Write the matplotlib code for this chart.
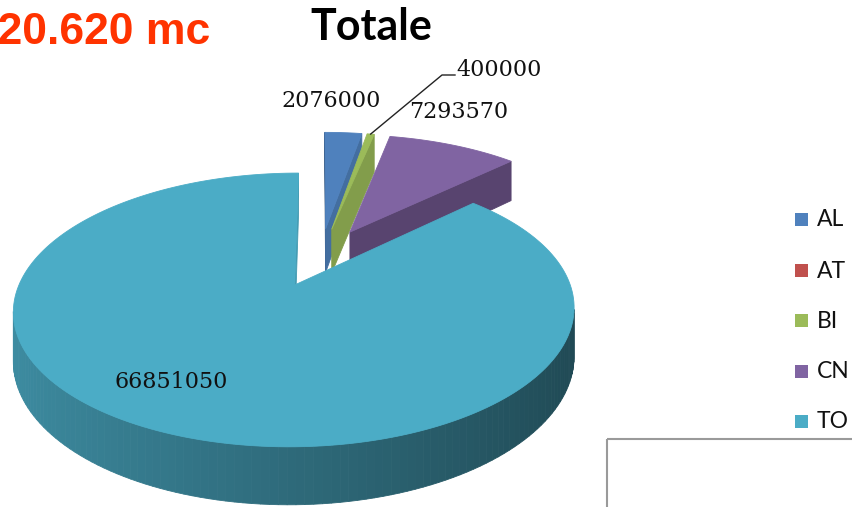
import numpy as np
import matplotlib.pyplot as plt
from matplotlib.patches import Polygon, Rectangle
from matplotlib.colors import to_rgb

# quantities per province (mc)
provinces = ["AL", "AT", "BI", "CN", "TO"]
volumes = [2076000, 0, 400000, 7293570, 66851050]
colors = ["#4F81BD", "#C0504D", "#9BBB59", "#8064A2", "#4BACC6"]

# 3D pie geometry in pixel space (y grows downward)
CX, CY = 320.4, 256.9      # centre of the disc
A, B = 265.0, 122.3        # horizontal / vertical semi axes
P = 0.175                  # perspective strength
H = 45.6                   # thickness of the disc
EXPLODE = 0.24


def proj(u, v, z=0.0):
    """Project disc coordinates (u right, v toward viewer, z down) to pixels."""
    s = 1.0 / (1.0 - P * v)
    return CX + A * u * s, CY + (B * v + H * z) * s


def shade(col, f):
    r, g, b = to_rgb(col)
    return (r * f, g * f, b * f)


def signed_area(pts):
    pts = np.asarray(pts)
    x, y = pts[:, 0], pts[:, 1]
    return 0.5 * np.sum(x * np.roll(y, -1) - np.roll(x, -1) * y)


total = sum(volumes)
angles = np.concatenate([[0], np.cumsum(volumes) / total * 360.0])

fig = plt.figure(figsize=(8.52, 5.07), dpi=100)
ax = fig.add_axes([0, 0, 1, 1])
ax.set_xlim(0, 852)
ax.set_ylim(507, 0)
ax.axis("off")

slices = []
for i, val in enumerate(volumes):
    if val <= 0:
        continue
    t0, t1 = angles[i], angles[i + 1]
    mid = np.radians((t0 + t1) / 2)
    ou, ov = EXPLODE * np.sin(mid), -EXPLODE * np.cos(mid)
    slices.append((ov, i, t0, t1, ou))

# back to front
slices.sort()
arc_mid = {}
for ov, i, t0, t1, ou in slices:
    col = colors[i]
    n = max(int((t1 - t0) / 1.5), 2)
    th = np.radians(np.linspace(t0, t1, n))
    au = ou + np.sin(th)
    av = ov - np.cos(th)
    top = [proj(u, v, 0) for u, v in zip(au, av)]
    bot = [proj(u, v, 1) for u, v in zip(au, av)]
    apex_t = proj(ou, ov, 0)
    apex_b = proj(ou, ov, 1)
    m = np.radians((t0 + t1) / 2)
    arc_mid[i] = proj(ou + np.sin(m), ov - np.cos(m), 0)

    faces = []
    # radial wall at the start angle
    faces.append(([apex_t, top[0], bot[0], apex_b], shade(col, 0.62)))
    # curved outer wall, lighter on the left, darker on the right
    for k in range(n - 1):
        tm = (th[k] + th[k + 1]) / 2
        f = 0.62 - 0.2 * np.sin(tm)
        faces.append(([top[k], top[k + 1], bot[k + 1], bot[k]], shade(col, f)))
    # radial wall at the end angle
    nv = np.sin(np.radians(t1))
    faces.append(([top[-1], apex_t, apex_b, bot[-1]], shade(col, 0.9 - 0.3 * nv)))

    for pts, fc in faces:
        if signed_area(pts) < 0:
            ax.add_patch(Polygon(pts, closed=True, facecolor=fc,
                                 edgecolor=fc, lw=0.6))
    ax.add_patch(Polygon([apex_t] + top, closed=True, facecolor=col,
                         edgecolor=col, lw=0.6))

# data labels
label_font = dict(family="DejaVu Serif", fontsize=16, color="#111111")
ax.text(331, 107, str(volumes[0]), ha="center", va="baseline", **label_font)
ax.text(459, 118, str(volumes[3]), ha="center", va="baseline", **label_font)
ax.text(499, 76, str(volumes[2]), ha="center", va="baseline", **label_font)
ax.text(171, 388, str(volumes[4]), ha="center", va="baseline", **label_font)

# leader line for the thin BI slice
bx, by = arc_mid[2]
ax.plot([455, 442, bx], [75, 75, by], color="#222222", lw=1.0)

# title and total
ax.text(371, 40, "Totale", ha="center", va="baseline", family="Lato",
        fontweight="bold", fontsize=31)
ax.text(210, 44, "76.620.620 mc", ha="right", va="baseline",
        family="Liberation Sans", fontweight="bold", fontsize=32,
        color="#FF3300")

# legend
leg_y = [220, 271, 321, 372, 422]
for name, col, y in zip(provinces, colors, leg_y):
    ax.add_patch(Rectangle((795, y - 7), 13, 13, facecolor=col, edgecolor="none"))
    ax.text(817, y, name, ha="left", va="center", family="Lato",
            fontsize=16.5, color="#111111")

# frame of the next chart below the legend
ax.add_patch(Rectangle((607, 439), 300, 120, facecolor="none",
                       edgecolor="#9a9a9a", lw=1.5))

fig.savefig("out.png", dpi=100)
